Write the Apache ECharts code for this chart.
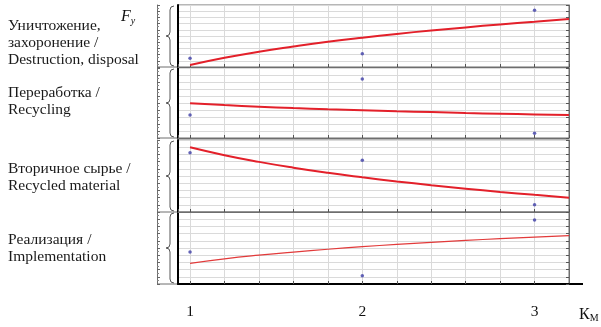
<!DOCTYPE html>
<html><head><meta charset="utf-8">
<script src="https://cdn.jsdelivr.net/npm/echarts@6/dist/echarts.min.js"></script>
<style>html,body{margin:0;padding:0;background:#fff}#c{width:601px;height:327px}</style>
</head><body><div id="c"></div>
<script>
// ---- data ----
const panelLabels = [
  ['Уничтожение,', 'захоронение /', 'Destruction, disposal'],
  ['Переработка /', 'Recycling'],
  ['Вторичное сырье /', 'Recycled material'],
  ['Реализация /', 'Implementation']
];
const xTickLabels = ['1', '2', '3'];
const xPoints = [1, 2, 3];
const xCurve = [1.0, 1.2, 1.4, 1.6, 1.8, 2.0, 2.2, 2.4, 2.6, 2.8, 3.0, 3.2];
const disposalPoints = [1.4, 2.15, 9.15];
const disposalCurve = [0.32, 1.48, 2.47, 3.30, 4.06, 4.73, 5.34, 5.89, 6.39, 6.87, 7.30, 7.74];
const recyclingPoints = [3.29, 8.43, 0.67];
const recyclingCurve = [4.96, 4.70, 4.47, 4.28, 4.11, 3.96, 3.81, 3.70, 3.57, 3.47, 3.37, 3.27];
const materialPoints = [8.24, 7.18, 1.01];
const materialCurve = [8.99, 7.89, 6.96, 6.15, 5.44, 4.82, 4.25, 3.72, 3.24, 2.79, 2.38, 1.99];
const implPoints = [4.44, 1.15, 8.89];
const implCurve = [2.87, 3.49, 4.00, 4.44, 4.83, 5.18, 5.50, 5.79, 6.06, 6.29, 6.51, 6.72];
const yTitle = 'F';
const yTitleSub = 'y';
const xTitle = 'К';
const xTitleSub = 'М';

// ---- layout / style ----
const pointsAll = [disposalPoints, recyclingPoints, materialPoints, implPoints];
const curvesAll = [disposalCurve, recyclingCurve, materialCurve, implCurve];
const panels = [{top: 5, bottom: 67}, {top: 68, bottom: 138}, {top: 140, bottom: 212}, {top: 212, bottom: 284}];
const lineCenters = [[26, 43, 60], [93, 110], [169, 186], [240, 257]];
const LEFT = 178, RIGHT = 569, W = 601;
const serif = '"Liberation Serif", "DejaVu Serif", serif';
const frameColor = '#6e6e6e';
const gridColor = '#dadada';

const grids = [], xAxes = [], yAxes = [], series = [], graphics = [];
panels.forEach((p, i) => {
  grids.push({left: LEFT, right: W - RIGHT, top: p.top, height: p.bottom - p.top,
    show: true, borderColor: frameColor, borderWidth: 1});
  const last = i === panels.length - 1;
  xAxes.push({
    type: 'value', gridIndex: i, min: 0.93, max: 3.2, splitNumber: 11,
    axisLine: {show: true, onZero: false, lineStyle: {color: last ? '#000' : frameColor, width: last ? 2 : 1}},
    axisTick: {show: true, inside: true, length: 3, lineStyle: {color: '#555'}},
    splitLine: {show: true, lineStyle: {color: gridColor, width: 1}},
    axisLabel: {show: last, margin: 20, fontFamily: serif, fontSize: 15.5, color: '#111',
      showMinLabel: false, showMaxLabel: false,
      formatter: v => {
        const k = xPoints.findIndex(x => Math.abs(x - v) < 1e-6);
        return k >= 0 ? xTickLabels[k] : '';
      }}
  });
  // main left axis (thick black)
  yAxes.push({type: 'value', gridIndex: i, min: 0, max: 10, interval: 1, position: 'left',
    axisLine: {show: true, lineStyle: {color: '#000', width: 2}},
    axisTick: {show: false}, axisLabel: {show: false},
    splitLine: {show: true, lineStyle: {color: gridColor, width: 1}}});
  // right frame with ticks
  yAxes.push({type: 'value', gridIndex: i, min: 0, max: 10, interval: 1, position: 'right',
    axisLine: {show: true, lineStyle: {color: frameColor, width: 1}},
    axisTick: {show: true, inside: true, length: 3, lineStyle: {color: '#555'}},
    axisLabel: {show: false}, splitLine: {show: false}});
  // left ruler
  yAxes.push({type: 'value', gridIndex: i, min: 0, max: 10, interval: 1, position: 'left', offset: LEFT - 157,
    axisLine: {show: true, lineStyle: {color: frameColor, width: 1}},
    axisTick: {show: true, inside: true, length: 3, lineStyle: {color: '#666'}},
    minorTick: {show: true, splitNumber: 2, length: 2, lineStyle: {color: '#888'}},
    axisLabel: {show: false}, splitLine: {show: false}});
  series.push({type: 'line', xAxisIndex: i, yAxisIndex: i * 3, smooth: true, showSymbol: false,
    silent: true, z: 3,
    lineStyle: {color: last ? '#e23a3a' : '#e3202a', width: last ? 1.2 : 2},
    data: xCurve.map((x, k) => [x, curvesAll[i][k]])});
  series.push({type: 'scatter', xAxisIndex: i, yAxisIndex: i * 3, symbolSize: 3.5, z: 4,
    itemStyle: {color: '#3d3da6'},
    data: xPoints.map((x, k) => [x, pointsAll[i][k]])});

  // brace
  const t = p.top, b = p.bottom, m = (t + b) / 2;
  const bs = {stroke: '#555', lineWidth: 1, fill: null};
  graphics.push(
    {type: 'bezierCurve', shape: {x1: 174, y1: t + 1, cpx1: 170, cpy1: t + 1, x2: 170, y2: t + 5}, style: bs},
    {type: 'line', shape: {x1: 170, y1: t + 5, x2: 170, y2: m - 4}, style: bs},
    {type: 'bezierCurve', shape: {x1: 170, y1: m - 4, cpx1: 170, cpy1: m, x2: 166, y2: m}, style: bs},
    {type: 'bezierCurve', shape: {x1: 166, y1: m, cpx1: 170, cpy1: m, x2: 170, y2: m + 4}, style: bs},
    {type: 'line', shape: {x1: 170, y1: m + 4, x2: 170, y2: b - 5}, style: bs},
    {type: 'bezierCurve', shape: {x1: 170, y1: b - 5, cpx1: 170, cpy1: b - 1, x2: 174, y2: b - 1}, style: bs},
    {type: 'line', shape: {x1: 157, y1: b, x2: LEFT, y2: b}, style: {stroke: frameColor, lineWidth: 1}}
  );
  panelLabels[i].forEach((txt, j) => {
    graphics.push({type: 'text', x: 8, y: lineCenters[i][j],
      style: {text: txt, font: '15.5px ' + serif, fill: '#1a1a1a', textVerticalAlign: 'middle', verticalAlign: 'middle'}});
  });
});
// extension of bottom axis
graphics.push({type: 'line', shape: {x1: RIGHT, y1: 284, x2: 583, y2: 284}, style: {stroke: '#000', lineWidth: 2}});

const chart = echarts.init(document.getElementById('c'), null, {renderer: 'canvas'});
chart.setOption({
  animation: false,
  grid: grids, xAxis: xAxes, yAxis: yAxes, series: series,
  title: [
    {text: '{f|' + yTitle + '}{s|' + yTitleSub + '}', left: 116, top: 3,
      textStyle: {fontWeight: 'normal', rich: {f: {fontFamily: serif, fontStyle: 'italic', fontWeight: 'normal', fontSize: 16, color: '#111'},
        s: {fontFamily: serif, fontStyle: 'italic', fontWeight: 'normal', fontSize: 10, color: '#111', verticalAlign: 'bottom', padding: [8, 0, 0, 0]}}}},
    {text: '{f|' + xTitle + '}{s|' + xTitleSub + '}', left: 574, top: 302,
      textStyle: {fontWeight: 'normal', rich: {f: {fontFamily: serif, fontWeight: 'normal', fontSize: 16, color: '#111'},
        s: {fontFamily: serif, fontWeight: 'normal', fontSize: 10, color: '#111', verticalAlign: 'bottom', padding: [6, 0, 0, 0]}}}}
  ],
  graphic: graphics
});
</script></body></html>
